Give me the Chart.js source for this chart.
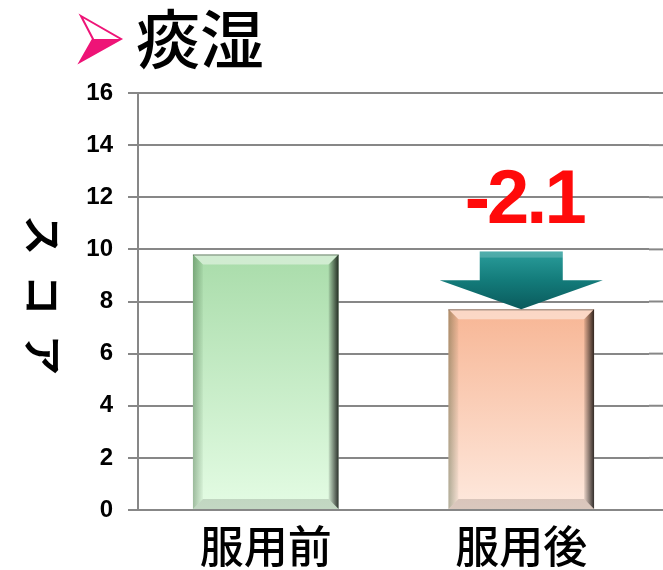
<!DOCTYPE html>
<html>
<head>
<meta charset="utf-8">
<script src="https://cdn.jsdelivr.net/npm/chart.js@4"></script>
<style>
  html, body { margin: 0; padding: 0; background: #fff; }
</style>
</head>
<body>
<canvas id="chart" width="663" height="570"></canvas>
<script>
// data
var categories = ['服用前', '服用後'];
var scores = [9.8, 7.7];
var yMin = 0, yMax = 16, yStep = 2;
var titleText = '痰湿';
var axisTitle = 'スコア';

var topColors = ['#a9dcaa', '#f7b695'];
var bottomColors = ['#e4fce4', '#fee9de'];
var gridColor = '#878787';

function barGradient(ctx) {
  var chart = ctx.chart;
  var area = chart.chartArea;
  var i = ctx.dataIndex;
  if (!area) return topColors[i];
  var y = chart.scales.y;
  var g = chart.ctx.createLinearGradient(0, y.getPixelForValue(scores[i]), 0, area.bottom);
  g.addColorStop(0, topColors[i]);
  g.addColorStop(1, bottomColors[i]);
  return g;
}

// gridlines run on to the right edge of the picture
var gridExtend = {
  id: 'gridExtend',
  beforeDatasetsDraw: function (chart) {
    var c = chart.ctx, y = chart.scales.y, a = chart.chartArea;
    c.save();
    c.strokeStyle = gridColor;
    c.lineWidth = 2;
    y.ticks.forEach(function (t) {
      var py = y.getPixelForValue(t.value);
      c.beginPath();
      c.moveTo(a.right, py);
      c.lineTo(chart.width, py);
      c.stroke();
    });
    c.restore();
  }
};

// bevelled look on the bars
var bevel = {
  id: 'bevel',
  afterDatasetsDraw: function (chart) {
    var c = chart.ctx;
    var meta = chart.getDatasetMeta(0);
    meta.data.forEach(function (bar) {
      var p = bar.getProps(['x', 'y', 'base', 'width'], true);
      var L = p.x - p.width / 2, R = p.x + p.width / 2, T = p.y, B = p.base;
      var b = 10;
      c.save();
      // top
      c.fillStyle = 'rgba(255,255,255,0.45)';
      c.beginPath();
      c.moveTo(L, T); c.lineTo(R, T); c.lineTo(R - b, T + b); c.lineTo(L + b, T + b);
      c.closePath(); c.fill();
      // left
      var gl = c.createLinearGradient(L, 0, L + b, 0);
      gl.addColorStop(0, 'rgba(0,40,0,0.3)');
      gl.addColorStop(1, 'rgba(0,40,0,0.04)');
      c.fillStyle = gl;
      c.beginPath();
      c.moveTo(L, T); c.lineTo(L + b, T + b); c.lineTo(L + b, B - b); c.lineTo(L, B);
      c.closePath(); c.fill();
      // right
      var gr = c.createLinearGradient(R - b, 0, R, 0);
      gr.addColorStop(0, 'rgba(0,0,0,0.08)');
      gr.addColorStop(1, 'rgba(0,0,0,0.8)');
      c.fillStyle = gr;
      c.beginPath();
      c.moveTo(R, T); c.lineTo(R - b, T + b); c.lineTo(R - b, B - b); c.lineTo(R, B);
      c.closePath(); c.fill();
      // bottom
      c.fillStyle = 'rgba(0,0,0,0.14)';
      c.beginPath();
      c.moveTo(L, B); c.lineTo(L + b, B - b); c.lineTo(R - b, B - b); c.lineTo(R, B);
      c.closePath(); c.fill();
      // top rim
      c.strokeStyle = 'rgba(0,0,0,0.3)';
      c.lineWidth = 1.5;
      c.beginPath(); c.moveTo(L, T + 0.5); c.lineTo(R, T + 0.5); c.stroke();
      c.restore();
    });
  }
};

// down arrow and the change label over the second bar
var change = {
  id: 'change',
  afterDatasetsDraw: function (chart) {
    var c = chart.ctx, y = chart.scales.y;
    var bar = chart.getDatasetMeta(0).data[1];
    var w = bar.width, cx = bar.x;
    var top = y.getPixelForValue(scores[0]) - 3;
    var tip = y.getPixelForValue(scores[1]);
    var headTop = tip - 29;
    var shaft = w * 0.57 / 2, wing = w * 1.12 / 2;
    c.save();
    var g = c.createLinearGradient(0, top, 0, tip);
    g.addColorStop(0, '#2a9d9b');
    g.addColorStop(0.5, '#137b7a');
    g.addColorStop(1, '#0a5a5c');
    c.fillStyle = g;
    c.beginPath();
    c.moveTo(cx - shaft, top);
    c.lineTo(cx + shaft, top);
    c.lineTo(cx + shaft, headTop);
    c.lineTo(cx + wing, headTop);
    c.lineTo(cx, tip);
    c.lineTo(cx - wing, headTop);
    c.lineTo(cx - shaft, headTop);
    c.closePath();
    c.fill();
    c.fillStyle = 'rgba(255,255,255,0.18)';
    c.fillRect(cx - shaft, top, shaft * 2, 6);
    c.restore();

    var diff = (scores[1] - scores[0]).toFixed(1);
    c.save();
    c.font = 'bold 76px "Liberation Sans", Arial, sans-serif';
    c.fillStyle = '#ff0a0a';
    c.textAlign = 'center';
    c.textBaseline = 'alphabetic';
    if ('letterSpacing' in c) c.letterSpacing = '-3px';
    c.fillText(diff, cx + 3, y.getPixelForValue(scores[0] + 1.2));
    c.restore();
  }
};

// title with the pink pointer, and the spaced-out y axis title
var decor = {
  id: 'decor',
  afterDraw: function (chart) {
    var c = chart.ctx;
    c.save();
    c.fillStyle = '#ee1477';
    c.strokeStyle = '#ee1477';
    c.lineWidth = 2;
    c.beginPath();
    c.moveTo(81, 16); c.lineTo(121, 39); c.lineTo(80, 62); c.lineTo(93, 39);
    c.closePath(); c.stroke();
    c.beginPath();
    c.moveTo(93, 39); c.lineTo(121, 39); c.lineTo(80, 62);
    c.closePath(); c.fill();

    c.fillStyle = '#000';
    c.font = '500 64px "Noto Sans CJK JP", sans-serif';
    c.textAlign = 'left';
    c.textBaseline = 'middle';
    c.fillText(titleText, 136, 39);

    // each kana laid on its side, reading downwards
    c.font = 'bold 40px "Noto Sans CJK JP", sans-serif';
    c.textAlign = 'center';
    var chars = axisTitle.split('');
    var pitch = 60, midY = 295;
    chars.forEach(function (ch, k) {
      c.save();
      c.translate(43, midY + (k - (chars.length - 1) / 2) * pitch);
      c.rotate(Math.PI / 2);
      c.fillText(ch, 0, 0);
      c.restore();
    });
    c.restore();
  }
};

new Chart(document.getElementById('chart').getContext('2d'), {
  type: 'bar',
  data: {
    labels: categories,
    datasets: [{
      data: scores,
      backgroundColor: barGradient,
      borderWidth: 0,
      barPercentage: 0.57,
      categoryPercentage: 1
    }]
  },
  options: {
    responsive: false,
    devicePixelRatio: 1,
    animation: false,
    layout: { padding: { top: 93, right: 14, left: 0, bottom: 0 } },
    plugins: {
      legend: { display: false },
      tooltip: { enabled: false }
    },
    scales: {
      y: {
        min: yMin,
        max: yMax,
        ticks: {
          stepSize: yStep,
          color: '#000',
          padding: 15,
          font: { family: '"Liberation Sans", Arial, sans-serif', size: 24, weight: 'bold' }
        },
        grid: { color: gridColor, lineWidth: 2, tickLength: 10 },
        border: { color: gridColor, width: 2 },
        afterFit: function (s) { s.width = 138; }
      },
      x: {
        ticks: {
          color: '#000',
          padding: 10,
          font: { family: '"Noto Sans CJK JP", sans-serif', size: 44, weight: '500' }
        },
        grid: { display: false, drawTicks: false, tickLength: 0 },
        border: { color: gridColor, width: 2 },
        afterFit: function (s) { s.height = 60; }
      }
    }
  },
  plugins: [gridExtend, bevel, change, decor]
});
</script>
</body>
</html>
